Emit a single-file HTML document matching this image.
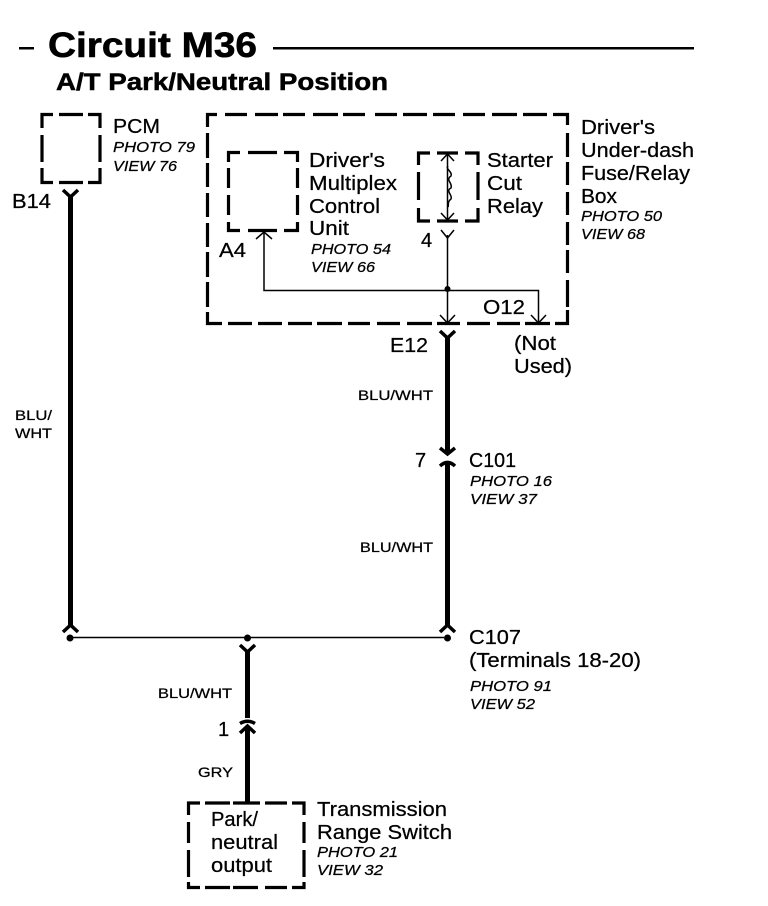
<!DOCTYPE html>
<html><head><meta charset="utf-8"><style>
html,body{margin:0;padding:0;background:#fff}
svg{display:block}
text{font-family:"Liberation Sans",sans-serif;fill:#000;stroke:#000;stroke-width:.25}
.l{font-size:20px}
.i{font-size:15px;font-style:italic}
.w{font-size:14px}
.b{font-weight:bold}
</style></head><body>
<svg width="768" height="906" viewBox="0 0 768 906" xmlns="http://www.w3.org/2000/svg">
<rect x="19" y="47" width="15" height="2.500"/>
<rect x="273" y="47" width="421" height="2.500"/>
<text x="48" y="57" font-size="35" class="b" style="stroke-width:.6" textLength="209" lengthAdjust="spacingAndGlyphs">Circuit M36</text>
<text x="56" y="90" font-size="24" class="b" style="stroke-width:.5" textLength="332" lengthAdjust="spacingAndGlyphs">A/T Park/Neutral Position</text>

<g fill="none" stroke="#000" stroke-width="3.200">
<path d="M42 128V114.500H53M59 114.500H83M88 114.500H100V128M100 135V162M100 168V182.500H88M83 182.500H59M53 182.500H42V168M42 162V135"/>
<path d="M207.500 127V114.500H217M225 114.500H247M255 114.500H278M283 114.500H305M313 114.500H338M343 114.500H365M375 114.500H397M403 114.500H427M433 114.500H455M463 114.500H485M492 114.500H517M523 114.500H547M553 114.500H567.500V125M567.500 133V157M567.500 162V185M567.500 192V215M567.500 222V245M567.500 250V273M567.500 280V307M567.500 310V323.500H555M550 323.500H525M520 323.500H497M490 323.500H467M460 323.500H437M432 323.500H407M400 323.500H377M370 323.500H348M342 323.500H317M312 323.500H288M282 323.500H258M252 323.500H228M222 323.500H207.500V312M207.500 307V282M207.500 277V252M207.500 247V223M207.500 217V193M207.500 187V163M207.500 158V133"/>
<path d="M228.500 162V152.500H240M248 152.500H277M284 152.500H297.500V162M297.500 168V188M297.500 195V215M297.500 222V230.500H284M277 230.500H248M240 230.500H228.500V222M228.500 215V195M228.500 188V168"/>
<path d="M418.500 165V153H430M437 153H458M465 153H478V165M478 172V200M478 208V221H465M458 221H437M430 221H418.500V208M418.500 200V172"/>
<path d="M188.500 815V803H200M205 803H230M233 803H260M265 803H287M292 803H304V815M304 822V843M304 850V877M304 882V887.500H292M287 887.500H265M258 887.500H233M230 887.500H205M200 887.500H188.500V882M188.500 877V850M188.500 843V822"/>
</g>

<g fill="none" stroke="#000" stroke-width="1.500">
<path d="M447.500 235V323"/>
<path d="M264 232V290.500H538.500V323"/>
<path d="M256 239L264 232L272 239"/>
<path d="M440 315L447.500 323L455 315"/>
<path d="M531 315L538.500 323L546 315"/>
<path d="M441 230L447.500 238L454 230"/>
<path d="M447.500 154V219M441 161L447.500 154L454 161M441 213L447.500 220L454 213"/>
<path d="M448 166C445 169 453 172 451 176C445 180 453 183 451 188C445 191 453 195 451 199C447 202 449 205 448 207"/>
<path d="M72 637.500H444"/>
</g>
<circle cx="447.500" cy="289" r="3"/>
<circle cx="70" cy="638" r="3.500"/>
<circle cx="247.500" cy="638" r="3.500"/>
<circle cx="447.500" cy="638" r="3.500"/>

<g fill="none" stroke="#000" stroke-width="5">
<path d="M70.500 195V625"/>
<path d="M447.500 336V453M447.500 462V626"/>
<path d="M247.500 650V718M247.500 726V802"/>
</g>
<g fill="none" stroke="#000" stroke-width="3.500">
<path d="M63 190L70.500 197L78 190"/>
<path d="M440 331L447.500 338L455 331"/>
<path d="M440 448L447.500 454L455 448"/>
<path d="M440 466Q447.500 459 455 466"/>
<path d="M63 632L70.500 625L78 632"/>
<path d="M440 632L447.500 625L455 632"/>
<path d="M240 645L247.500 652L255 645"/>
<path d="M240 723.500Q247.500 719 255 723.500"/>
<path d="M240 733L247.500 726L255 733"/>
</g>

<text class="l" x="113" y="133" textLength="47" lengthAdjust="spacingAndGlyphs">PCM</text>
<text class="i" x="113" y="152" textLength="82" lengthAdjust="spacingAndGlyphs">PHOTO 79</text>
<text class="i" x="113" y="171" textLength="64" lengthAdjust="spacingAndGlyphs">VIEW 76</text>
<text class="l" x="12" y="208" textLength="39" lengthAdjust="spacingAndGlyphs">B14</text>
<text class="l" x="219" y="257" textLength="27" lengthAdjust="spacingAndGlyphs">A4</text>
<text class="l" x="309" y="167" textLength="76" lengthAdjust="spacingAndGlyphs">Driver's</text>
<text class="l" x="309" y="190" textLength="88" lengthAdjust="spacingAndGlyphs">Multiplex</text>
<text class="l" x="309" y="213" textLength="71" lengthAdjust="spacingAndGlyphs">Control</text>
<text class="l" x="309" y="235" textLength="40" lengthAdjust="spacingAndGlyphs">Unit</text>
<text class="i" x="311" y="254" textLength="80" lengthAdjust="spacingAndGlyphs">PHOTO 54</text>
<text class="i" x="311" y="272" textLength="64" lengthAdjust="spacingAndGlyphs">VIEW 66</text>
<text class="l" x="487" y="167" textLength="66" lengthAdjust="spacingAndGlyphs">Starter</text>
<text class="l" x="487" y="190" textLength="35" lengthAdjust="spacingAndGlyphs">Cut</text>
<text class="l" x="487" y="213" textLength="56" lengthAdjust="spacingAndGlyphs">Relay</text>
<text class="l" x="421" y="247">4</text>
<text class="l" x="581" y="134" textLength="74" lengthAdjust="spacingAndGlyphs">Driver's</text>
<text class="l" x="581" y="157" textLength="113" lengthAdjust="spacingAndGlyphs">Under-dash</text>
<text class="l" x="581" y="180" textLength="109" lengthAdjust="spacingAndGlyphs">Fuse/Relay</text>
<text class="l" x="581" y="203" textLength="36" lengthAdjust="spacingAndGlyphs">Box</text>
<text class="i" x="581" y="221" textLength="81" lengthAdjust="spacingAndGlyphs">PHOTO 50</text>
<text class="i" x="581" y="239" textLength="64" lengthAdjust="spacingAndGlyphs">VIEW 68</text>
<text class="l" x="483" y="314" textLength="42" lengthAdjust="spacingAndGlyphs">O12</text>
<text class="l" x="390" y="352" textLength="38" lengthAdjust="spacingAndGlyphs">E12</text>
<text class="l" x="514" y="350" textLength="42" lengthAdjust="spacingAndGlyphs">(Not</text>
<text class="l" x="514" y="373" textLength="58" lengthAdjust="spacingAndGlyphs">Used)</text>
<text class="w" x="358" y="400" textLength="75" lengthAdjust="spacingAndGlyphs">BLU/WHT</text>
<text class="w" x="15" y="420" textLength="37" lengthAdjust="spacingAndGlyphs">BLU/</text>
<text class="w" x="15" y="438" textLength="37" lengthAdjust="spacingAndGlyphs">WHT</text>
<text class="l" x="415" y="467">7</text>
<text class="l" x="469" y="467" textLength="47" lengthAdjust="spacingAndGlyphs">C101</text>
<text class="i" x="470" y="486" textLength="82" lengthAdjust="spacingAndGlyphs">PHOTO 16</text>
<text class="i" x="470" y="504" textLength="67" lengthAdjust="spacingAndGlyphs">VIEW 37</text>
<text class="w" x="360" y="552" textLength="73" lengthAdjust="spacingAndGlyphs">BLU/WHT</text>
<text class="l" x="469" y="644" textLength="52" lengthAdjust="spacingAndGlyphs">C107</text>
<text class="l" x="469" y="667" textLength="172" lengthAdjust="spacingAndGlyphs">(Terminals 18-20)</text>
<text class="i" x="470" y="691" textLength="82" lengthAdjust="spacingAndGlyphs">PHOTO 91</text>
<text class="i" x="470" y="709" textLength="65" lengthAdjust="spacingAndGlyphs">VIEW 52</text>
<text class="w" x="158" y="698" textLength="74" lengthAdjust="spacingAndGlyphs">BLU/WHT</text>
<text class="l" x="218" y="736">1</text>
<text class="w" x="198" y="777" textLength="35" lengthAdjust="spacingAndGlyphs">GRY</text>
<text class="l" x="211" y="826" textLength="47" lengthAdjust="spacingAndGlyphs">Park/</text>
<text class="l" x="211" y="849" textLength="67" lengthAdjust="spacingAndGlyphs">neutral</text>
<text class="l" x="211" y="872" textLength="61" lengthAdjust="spacingAndGlyphs">output</text>
<text class="l" x="317" y="816" textLength="130" lengthAdjust="spacingAndGlyphs">Transmission</text>
<text class="l" x="317" y="839" textLength="135" lengthAdjust="spacingAndGlyphs">Range Switch</text>
<text class="i" x="317" y="857" textLength="81" lengthAdjust="spacingAndGlyphs">PHOTO 21</text>
<text class="i" x="317" y="875" textLength="66" lengthAdjust="spacingAndGlyphs">VIEW 32</text>
</svg>
</body></html>
